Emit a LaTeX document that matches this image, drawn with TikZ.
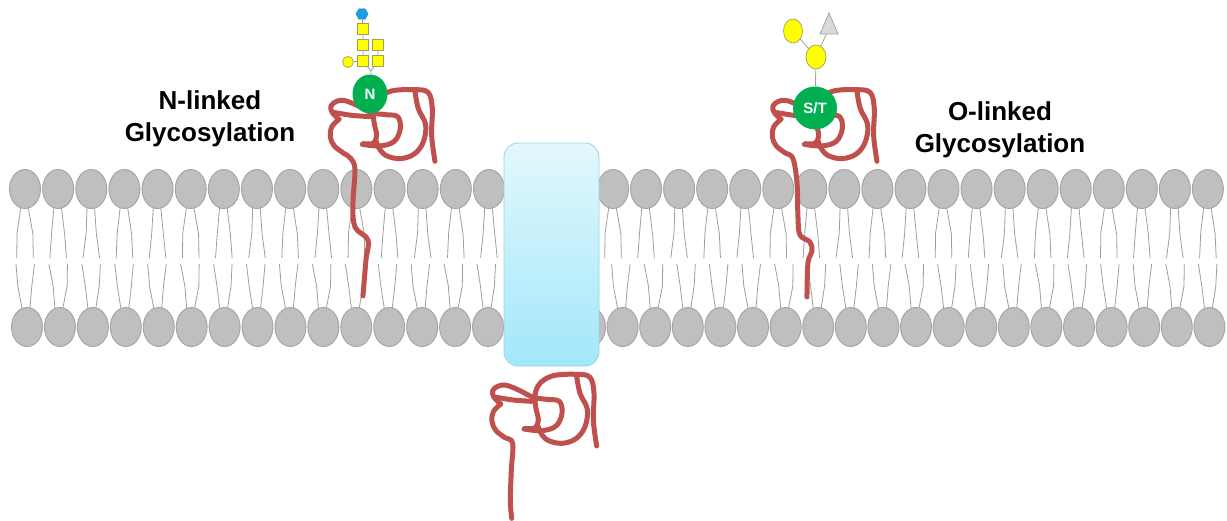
\documentclass[tikz,border=0pt]{standalone}
\usepackage{fontspec}
\setmainfont{Liberation Sans}
\usetikzlibrary{shapes.geometric}

\definecolor{headfill}{HTML}{BFBFBF}
\definecolor{headline}{HTML}{A3A3A3}
\definecolor{tailline}{HTML}{9E9E9E}
\definecolor{protein}{HTML}{C0504D}
\definecolor{sitegreen}{HTML}{00B050}
\definecolor{sugaryellow}{HTML}{FFFF00}
\definecolor{sugaredge}{HTML}{A09F5A}
\definecolor{sugarblue}{HTML}{1E9FE0}
\definecolor{fucgray}{HTML}{D9D9D9}
\definecolor{linkgray}{HTML}{A0A0A0}
\definecolor{chtop}{HTML}{E2F8FD}
\definecolor{chbot}{HTML}{A3E7FA}
\definecolor{chedge}{HTML}{9AD4E6}

\tikzset{
  head/.style={draw=headline, fill=headfill, line width=0.9},
  tail/.style={draw=tailline, line width=0.8},
  chain/.style={draw=protein, line width=5, line cap=round, line join=round},
  link/.style={draw=linkgray, line width=0.8},
  sugarsq/.style={rectangle, draw=sugaredge, fill=sugaryellow, line width=0.7,
    minimum size=11, inner sep=0},
  sugarround/.style={ellipse, draw=sugaredge, fill=sugaryellow, line width=0.7, inner sep=0},
  sugarhex/.style={regular polygon, regular polygon sides=6, draw=sugarblue!80!black,
    fill=sugarblue, line width=0.5, minimum size=12, inner sep=0},
  fucose/.style={isosceles triangle, isosceles triangle stretches, shape border rotate=90,
    draw=linkgray, fill=fucgray, line width=0.7, minimum width=18, minimum height=21, inner sep=0},
  site/.style={ellipse, fill=sitegreen, text=white, inner sep=0,
    font=\fontsize{15}{15}\selectfont\bfseries},
  title/.style={align=center, text=black, font=\fontsize{26}{32}\selectfont\bfseries},
}

% the folded part of a protein chain, in local units (3 units = 1 px)
\newcommand\proteinfold{%
  \draw[chain] plot[smooth, tension=0.6] coordinates {(92,132) (72,112) (68,92) (85,78)
    (110,76) (150,92) (190,112) (230,118) (268,124) (276,160) (258,198) (215,212) (162,207)};
  \draw[chain] plot[smooth, tension=0.6] coordinates {(80,112) (130,120) (185,124)};
  \draw[chain] plot[smooth, tension=0.6] coordinates {(165,205) (195,204) (205,180) (198,145)
    (195,105) (210,70) (250,47) (320,43) (360,52) (372,100) (370,180) (380,258)};
  \draw[chain] plot[smooth, tension=0.6] coordinates {(320,48) (330,100) (352,148) (345,200)
    (318,236) (275,250) (232,240) (210,215) (205,200)};
}

\begin{document}
\begin{tikzpicture}[x=1pt, y=-1pt]
  \useasboundingbox[fill=white] (0,0) rectangle (1227,520);

  % upper leaflet
  \foreach \i in {0,...,33}{
    \pgfmathsetmacro{\cx}{\i<15 ? 25+33.14*\i : 613+33.05*(\i-15)}
    \pgfmathsetmacro{\d}{mod(\i*7,5)*0.7-1.4}
    \draw[tail] (\cx-4.3,208) -- (\cx-6.5+\d,233) -- (\cx-8.3,258);
    \draw[tail] (\cx+3.3,208) -- (\cx+6.5-\d,234) -- (\cx+8.3,258);
    \draw[head] (\cx,189) ellipse [x radius=15.5, y radius=19.5];
  }
  % lower leaflet
  \foreach \i in {0,...,34}{
    \pgfmathsetmacro{\cx}{\i<15 ? 27+32.93*\i : 590+32.6*(\i-15)}
    \pgfmathsetmacro{\d}{mod(\i*3,4)*0.8-1.2}
    \draw[tail] (\cx-11,264) -- (\cx-8+\d,286) -- (\cx-5,308);
    \draw[tail] (\cx+7.5,264) -- (\cx+6+\d,286) -- (\cx+3,308);
    \draw[head] (\cx,327) ellipse [x radius=15.5, y radius=19.5];
  }

  % transmembrane channel
  \node[draw=chedge, top color=chtop, bottom color=chbot, rounded corners=14,
    line width=0.8, minimum width=95, minimum height=223, inner sep=0]
    (channel) at (551.5,254.5) {};

  % N-linked glycoprotein
  \begin{scope}[shift={(308.3,75.3)}, scale=1/3]
    \proteinfold
    \draw[chain] plot[smooth, tension=0.6] coordinates {(92,132) (70,155) (66,185) (78,212)
      (105,233) (128,250) (140,284) (134,383) (140,455) (179,494) (173,554) (164,662)};
  \end{scope}

  % O-linked glycoprotein
  \begin{scope}[shift={(750.3,75.3)}, scale=1/3]
    \proteinfold
    \draw[chain] plot[smooth, tension=0.6] coordinates {(92,132) (70,155) (66,185) (78,212)
      (105,233) (128,250) (140,323) (143,425) (149,479) (179,500) (185,528) (173,563) (170,665)};
  \end{scope}

  % cytoplasmic domain of the channel
  \begin{scope}[shift={(470,360)}, scale=1/3]
    \proteinfold
    \draw[chain] plot[smooth, tension=0.6] coordinates {(92,132) (70,155) (66,185) (78,212)
      (105,233) (128,250) (124,330) (121,420) (125,475)};
  \end{scope}

  % N-glycan
  \node[site, minimum width=35, minimum height=39] (Nsite) at (370,94) {N};
  \node[sugarhex] (hex) at (362,14) {};
  \node[sugarsq] (sq1) at (363,29) {};
  \node[sugarsq] (sq2) at (363,45) {};
  \node[sugarsq] (sq3) at (378,45) {};
  \node[sugarsq] (sq4) at (363,61) {};
  \node[sugarsq] (sq5) at (378,61) {};
  \node[sugarround, minimum width=11, minimum height=11] (gal) at (348,62) {};
  \coordinate (fork) at (371,71);
  \draw[link] (hex) -- (sq1) (sq1) -- (sq2) (sq2) -- (sq4) (sq3) -- (sq5) (gal) -- (sq4)
    (sq4) -- (fork) (sq5) -- (fork) (fork) -- (Nsite);

  % O-glycan
  \node[site, minimum width=44, minimum height=43] (STsite) at (815,108) {S/T};
  \node[sugarround, minimum width=20, minimum height=24] (core) at (816,57) {};
  \node[sugarround, minimum width=19, minimum height=24] (outer) at (793,31) {};
  \node[fucose] (fuc) at (829,28) {};
  \draw[link] (outer) -- (core) (fuc) -- (core) (core) -- (STsite);

  % labels
  \node[title] (nlabel) at (210,119) {N-linked\\Glycosylation};
  \node[title] (olabel) at (1000,130) {O-linked\\Glycosylation};
\end{tikzpicture}
\end{document}
